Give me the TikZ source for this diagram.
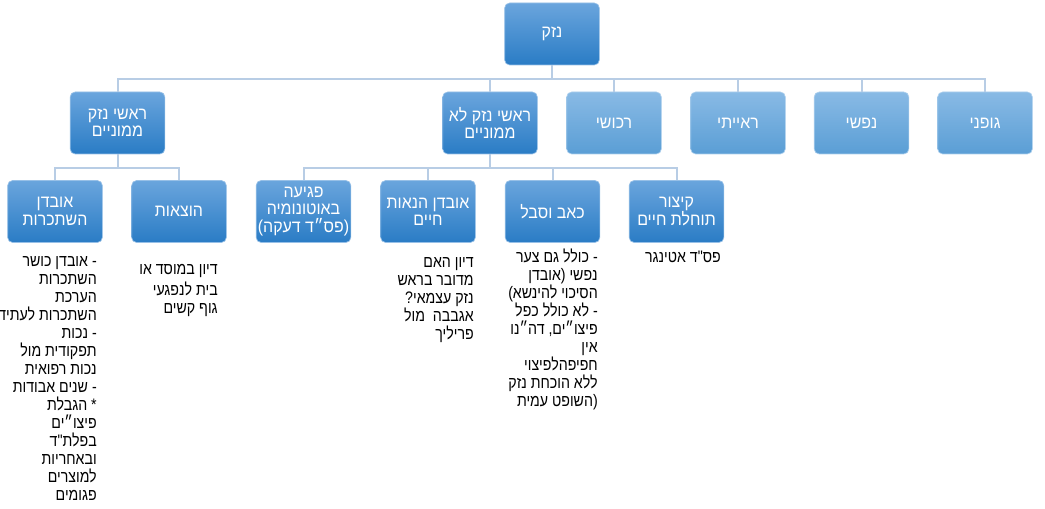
\documentclass[tikz,border=0pt]{standalone}
\usepackage{fontspec}
\setmainfont{Liberation Sans}[Script=Hebrew]
\newfontfamily\notefont{Liberation Sans}[Script=Hebrew, FakeStretch=0.85]
\newfontfamily\boxfont{Liberation Sans}[Script=Hebrew, FakeStretch=0.92]
\TeXXeTstate=1
\newcommand\rtltext[1]{\beginR#1\endR}
\definecolor{darktop}{RGB}{106,165,221}
\definecolor{darkbot}{RGB}{42,124,197}
\definecolor{lighttop}{RGB}{137,186,229}
\definecolor{lightbot}{RGB}{90,158,213}
\definecolor{conncol}{RGB}{184,205,229}
\tikzset{
  box/.style={rounded corners=3.75pt, minimum width=71pt, minimum height=46.5pt,
    text=white, align=center, font=\boxfont\fontsize{13}{13}\selectfont, inner sep=1pt,
    top color=darktop, bottom color=darkbot, draw=darktop!70!white, line width=0.5pt},
  lightbox/.style={box, top color=lighttop, bottom color=lightbot, draw=lighttop!70!white},
  conn/.style={draw=conncol, line width=1.5pt},
  note/.style={anchor=north east, align=right, inner sep=0pt,
    font=\notefont\fontsize{12.5}{13.5}\selectfont, text=black},
}
\begin{document}
\begin{tikzpicture}[x=0.75pt, y=-0.75pt]
\useasboundingbox[fill=white] (0,0) rectangle (1045,509);
% level 0
\node[box] (root) at (552,34) {\rtltext{נזק}};
% level 1
\node[box] (mamon) at (117.5,123) {\rtltext{ראשי נזק}\\\rtltext{ממוניים}};
\node[box] (lomamon) at (490,123) {\rtltext{ראשי נזק לא}\\\rtltext{ממוניים}};
\node[lightbox] (rechushi) at (614,123) {\rtltext{רכושי}};
\node[lightbox] (reiyati) at (738,123) {\rtltext{ראייתי}};
\node[lightbox] (nafshi) at (861.5,123) {\rtltext{נפשי}};
\node[lightbox] (gufani) at (985,123) {\rtltext{גופני}};
% level 2
\node[box] (avdan) at (55,211.5) {\rtltext{אובדן}\\\rtltext{השתכרות}};
\node[box] (hotzaot) at (179,211.5) {\rtltext{הוצאות}};
\node[box] (pgia) at (303.5,211.5) {\rtltext{פגיעה}\\\rtltext{באוטונומיה}\\\rtltext{(פס״ד דעקה)}};
\node[box] (hanaot) at (428,211.5) {\rtltext{אובדן הנאות}\\\rtltext{חיים}};
\node[box] (keev) at (552.5,211.5) {\rtltext{כאב וסבל}};
\node[box] (kitzur) at (676.5,211.5) {\rtltext{קיצור}\\\rtltext{תוחלת חיים}};
% connectors
\foreach \c in {mamon,lomamon,rechushi,reiyati,nafshi,gufani}
  \draw[conn] (root.south) -- ++(0,14) -| (\c.north);
\foreach \c in {avdan,hotzaot}
  \draw[conn] (mamon.south) -- ++(0,14) -| (\c.north);
\foreach \c in {pgia,hanaot,keev,kitzur}
  \draw[conn] (lomamon.south) -- ++(0,14) -| (\c.north);
% notes
\node[note] (n1) at (97,254) {\strut\rtltext{- אובדן כושר}\\\rtltext{השתכרות}\\\rtltext{הערכת}\\\rtltext{השתכרות לעתיד}\\\rtltext{- נכות}\\\rtltext{תפקודית מול}\\\rtltext{נכות רפואית}\\\rtltext{- שנים אבודות}\\\rtltext{* הגבלת}\\\rtltext{פיצו״ים}\\\rtltext{בפלת"ד}\\\rtltext{ובאחריות}\\\rtltext{למוצרים}\\\rtltext{פגומים}};
\node[note] (n2) at (218,262) {\strut\rtltext{דיון במוסד או}\\\rtltext{בית לנפגעי}\\\rtltext{גוף קשים}};
\node[note] (n3) at (474,255) {\strut\rtltext{דיון האם}\\\rtltext{מדובר בראש}\\\rtltext{נזק עצמאי?}\\\rtltext{אגבבה\ \ מול}\\\rtltext{פריליך}};
\node[note] (n4) at (598,249) {\strut\rtltext{- כולל גם צער}\\\rtltext{נפשי (אובדן}\\\rtltext{הסיכוי להינשא)}\\\rtltext{- לא כולל כפל}\\\rtltext{פיצו״ים, דה״נו}\\\rtltext{אין}\\\rtltext{חפיפהלפיצוי}\\\rtltext{ללא הוכחת נזק}\\\rtltext{(השופט עמית}};
\node[note] (n5) at (721,250) {\strut\rtltext{פס"ד אטינגר}};
\end{tikzpicture}
\end{document}
